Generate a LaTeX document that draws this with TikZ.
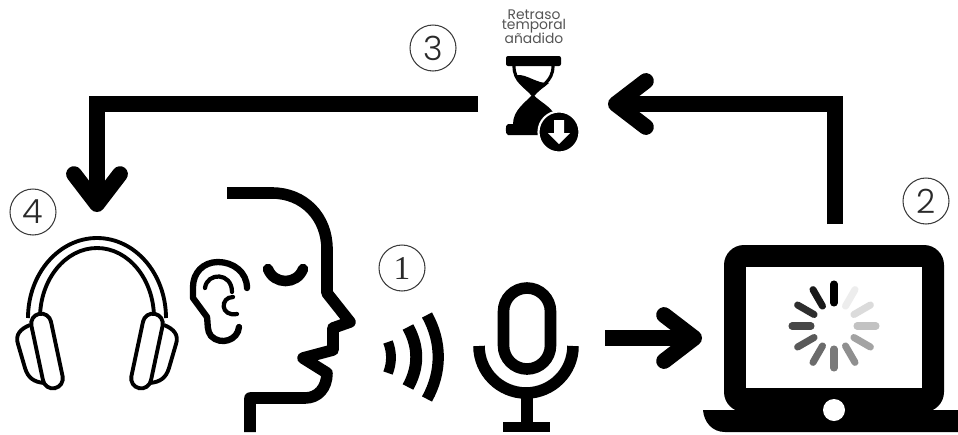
\documentclass[tikz,border=0pt]{standalone}
\usepackage{fontspec}
\usepackage{xcolor}
\usetikzlibrary{arrows.meta, positioning}
\newfontfamily\digitfont{Poppins}[UprightFont=* Light]
\newfontfamily\labelfont{Poppins}
\newfontfamily\onefont{Liberation Serif}
\definecolor{numgray}{RGB}{60, 60, 60}
\definecolor{labelgray}{RGB}{85, 85, 85}

\begin{document}
\begin{tikzpicture}[
    x=0.02cm, y=-0.02cm,
    numcircle/.style={circle, draw=numgray, line width=0.6pt, minimum size=0.92cm,
                      inner sep=0pt, text=numgray!70!black, font=\digitfont\fontsize{19}{19}\selectfont},
    flow/.style={line width=9pt, -{Straight Barb[round, length=0.6cm, width=0.92cm]}},
    icon/.style={line width=6.6pt, line join=round},
    pad/.style={rectangle, rounded corners=0.2cm, draw=black, fill=white, line width=2.2pt,
                minimum width=0.4cm, minimum height=1.52cm, inner sep=0pt},
    thinicon/.style={line width=2.2pt, line join=round}
]
\useasboundingbox (0,0) rectangle (958,434);

% step numbers
\node[numcircle] (N1) at (402,268) {\onefont 1};
\node[numcircle] (N2) at (926,201) {2};
\node[numcircle] (N3) at (433,48) {3};
\node[numcircle] (N4) at (33,212) {4};

\node[font=\labelfont\fontsize{7.9}{6.4}\selectfont, text=labelgray, align=center, inner sep=0pt]
    (DELAY) at (534,27) {Retraso\\[-1pt]temporal\\[-1pt]añadido};

% connector ends
\coordinate (MICOUT) at (605,338);
\coordinate (PCIN) at (702,338);
\coordinate (PCOUT) at (835,224);
\coordinate (PCTURN) at (835,104);
\coordinate (GLASSIN) at (608,104);
\coordinate (GLASSOUT) at (478,104);
\coordinate (EARTURN) at (97,104);
\coordinate (PHONESIN) at (97,212);

\draw[flow] (MICOUT) -- (PCIN);
\draw[flow] (PCOUT) -- (PCTURN) -- (GLASSIN);
\draw[flow] (GLASSOUT) -- (EARTURN) -- (PHONESIN);

% headphones
\draw[thinicon] (28,318) arc (180:360:69 and 80);
\draw[thinicon] (40,318) arc (180:360:57 and 70);
\draw[thinicon, fill=white] (30,325) .. controls (20,329) and (15,335) .. (18,344)
    -- (25,368) .. controls (28,378) and (34,382) .. (44,383);
\draw[thinicon, fill=white] (164,325) .. controls (174,329) and (179,335) .. (176,344)
    -- (169,368) .. controls (166,378) and (160,382) .. (150,383);
\node[pad, rotate=12] (PADL) at (47,351) {};
\node[pad, rotate=-12] (PADR) at (147,351) {};

% face
\draw[icon] (227,193) -- (272,193) .. controls (304,193) and (327,217) .. (327,249)
    -- (327,293) -- (350,322) -- (333,328) -- (333,350) -- (303,358) -- (327,373)
    .. controls (327,388) and (318,398) .. (305,398) -- (250,398) -- (250,432);
\draw[line width=6pt, line cap=round] (268,269) .. controls (274,285) and (297,285) .. (303,269);
\draw[line width=3.6pt, line cap=round, line join=round] (247,288) .. controls (247,272) and (233,262) .. (218,262)
    .. controls (203,262) and (193,273) .. (193,287) -- (193,298) -- (207,317)
    .. controls (208,325) and (207,331) .. (211,336) .. controls (221,346) and (238,340) .. (239,327);
\draw[line width=2.4pt, line cap=round, line join=round] (205,288) .. controls (207,272) and (232,272) .. (232,292);
\draw[line width=2.4pt, line cap=round] (233,297) .. controls (220,297) and (220,317) .. (237,314);

% sound waves
\draw[line width=5.6pt] (388,342) .. controls (392,352) and (392,363) .. (388,373);
\draw[line width=6.8pt] (408,327) .. controls (419,347) and (419,367) .. (408,387);
\draw[line width=6.4pt] (427,315) .. controls (442,342) and (442,372) .. (427,399);

% microphone
\draw[icon] (503.5,311.5) arc (180:360:23.5) -- (550.5,345.5) arc (0:180:23.5) -- cycle;
\draw[icon] (479,346) arc (180:0:47);
\draw[icon] (527,393) -- (527,427);
\draw[line width=5.8pt] (503,427) -- (550,427);

% laptop
\fill[rounded corners=0.4cm] (724,412) rectangle (944,245);
\fill[white] (746,267) rectangle (922,388);
\fill (703,410) -- (958,410) -- (958,432) -- (725,432) .. controls (712,432) and (704,422) .. (703,410) -- cycle;
\fill[white] (834,410) circle (11);
\foreach \ang/\shade in {-90/100, -60/7, -30/14, 0/24, 30/36, 60/44, 90/52, 120/58, 150/65, 180/72, 210/82, 240/90}
    \draw[line width=4pt, line cap=round, black!\shade] (834,326) ++(\ang:23) -- ++(\ang:19);

% hourglass
\fill[rounded corners=0.04cm] (506,56) rectangle (561,66);
\draw[line width=1.8pt] (514,66) .. controls (514,82) and (526,86) .. (533,95) .. controls (540,86) and (553,82) .. (553,66);
\fill (517,75) .. controls (527,74) and (537,84) .. (549,83) .. controls (544,88) and (537,90) .. (533,96)
    .. controls (527,90) and (520,86) .. (517,75) -- cycle;
\fill (533,94) .. controls (537,100) and (547,104) .. (553,112) -- (545,135) -- (508,135)
    .. controls (505,135) and (505,124) .. (508,124) -- (513,124) .. controls (513,110) and (526,102) .. (533,94) -- cycle;
\draw[fill=black, draw=white, line width=1.2pt] (559,132) circle (20.5);
\fill[white] (554,120) -- (564,120) -- (564,133) -- (570,133) -- (559,144) -- (548,133) -- (554,133) -- cycle;

\end{tikzpicture}
\end{document}
